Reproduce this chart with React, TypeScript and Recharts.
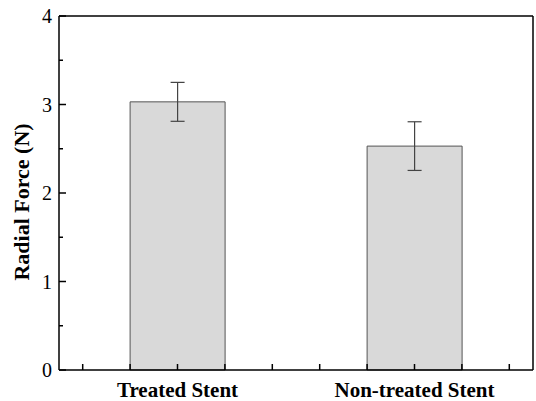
import React from "react";
import {
  BarChart, Bar, XAxis, YAxis, ErrorBar,
} from "recharts";

const CATEGORIES = ["Treated Stent", "Non-treated Stent"];
const FORCE = [3.03, 2.53];
const FORCE_ERR = [0.22, 0.275];
const Y_TICKS = [0, 1, 2, 3, 4];
const Y_MINOR_TICKS = [0.5, 1.5, 2.5, 3.5];
// bottom tick marks, as fractions of a category band around its centre
const BAND_TICKS = [-0.4, -0.2, 0, 0.2, 0.4];

const data = CATEGORIES.map((name, i) => ({ name, force: FORCE[i], err: FORCE_ERR[i] }));

const FONT = "'Liberation Serif', 'Times New Roman', serif";
const AXIS = { stroke: "#000", strokeWidth: 1.5 };

// tick marks only, no label
const NoLabel = () => <g />;

const CategoryTick = ({ x, y, payload }: any) => {
  const band = (payload?.offset ?? 0) * 2;
  return (
    <g>
      {BAND_TICKS.map((f) => (
        <line key={f} x1={x + f * band} x2={x + f * band} y1={y} y2={y - 6} stroke="#000" strokeWidth={1.5} />
      ))}
      <text x={x} y={y + 26.5} textAnchor="middle" fill="#000" fontSize={21} fontWeight={700} fontFamily={FONT}>
        {payload.value}
      </text>
    </g>
  );
};

// major y tick: inward mark plus label outside
const ValueTick = ({ x, y, payload }: any) => (
  <g>
    <line x1={x} x2={x + 7} y1={y} y2={y} stroke="#000" strokeWidth={1.5} />
    <text x={x - 7} y={y + 7} textAnchor="end" fill="#000" fontSize={20} fontFamily={FONT}>
      {payload.value}
    </text>
  </g>
);

export default function App() {
  return (
    <div style={{ position: "fixed", left: 0, top: 0, width: 536, height: 401, background: "#fff" }}>
      <BarChart
        width={536}
        height={401}
        data={data}
        margin={{ top: 16, right: 3, bottom: 0, left: 0 }}
        barCategoryGap="30%"
      >
        <XAxis
          dataKey="name"
          height={31}
          axisLine={AXIS}
          tickLine={false}
          tickSize={0}
          tickMargin={0}
          tick={CategoryTick}
        />
        {/* frame: top edge */}
        <XAxis
          xAxisId="top"
          type="number"
          scale="linear"
          domain={[0, 10]}
          allowDataOverflow
          orientation="top"
          mirror
          height={1}
          axisLine={AXIS}
          tick={false}
          tickLine={false}
        />
        <YAxis
          domain={[0, 4]}
          ticks={Y_TICKS}
          interval={0}
          width={59}
          axisLine={AXIS}
          tickLine={false}
          tickSize={0}
          tickMargin={0}
          tick={ValueTick}
          label={{
            value: "Radial Force (N)",
            angle: -90,
            position: "insideLeft",
            offset: 21,
            dy: 9,
            style: { textAnchor: "middle", fill: "#000", fontSize: 22, fontWeight: 700, fontFamily: FONT },
          }}
        />
        {/* frame: right edge */}
        <YAxis
          yAxisId="right"
          orientation="right"
          domain={[0, 4]}
          allowDataOverflow
          mirror
          width={1}
          axisLine={AXIS}
          tick={false}
          tickLine={false}
        />
        <YAxis
          yAxisId="minor"
          domain={[0, 4]}
          allowDataOverflow
          ticks={Y_MINOR_TICKS}
          interval={0}
          mirror
          width={1}
          axisLine={false}
          tick={NoLabel}
          tickSize={4}
          tickLine={AXIS}
        />
        <Bar dataKey="force" fill="#d9d9d9" stroke="#555" strokeWidth={1} isAnimationActive={false}>
          <ErrorBar dataKey="err" width={7} stroke="#444" strokeWidth={1.2} isAnimationActive={false} />
        </Bar>
      </BarChart>
    </div>
  );
}
